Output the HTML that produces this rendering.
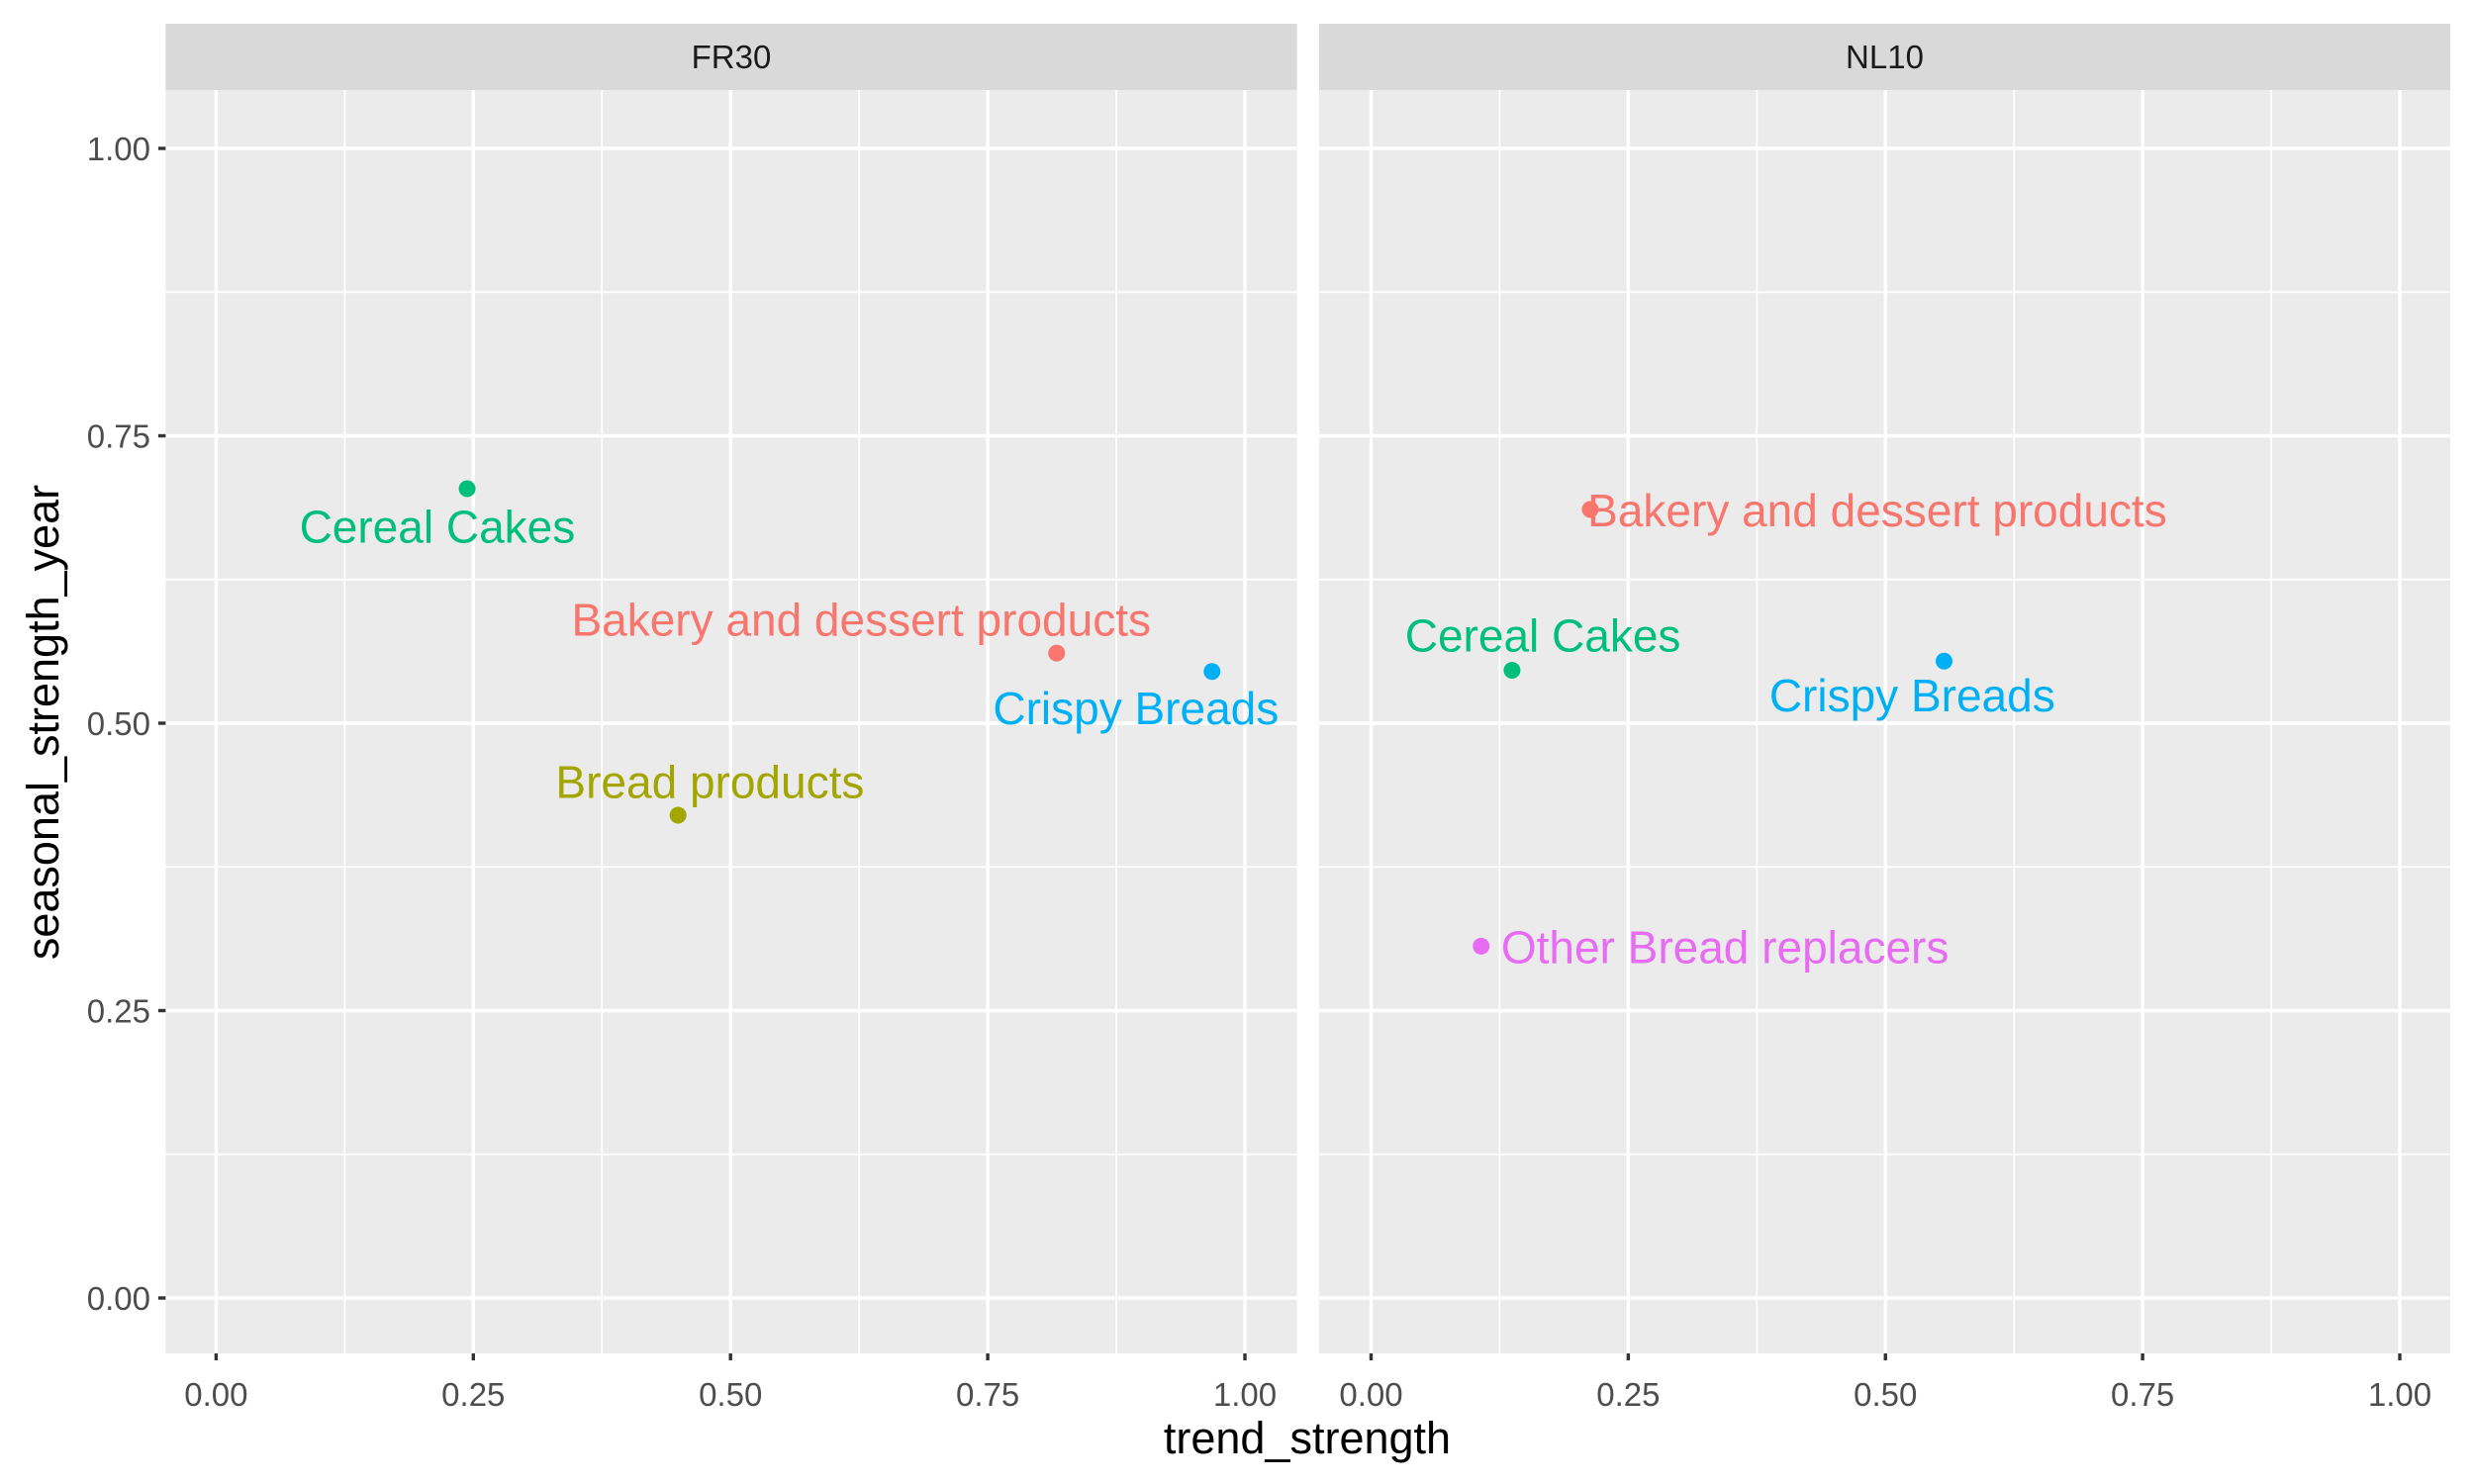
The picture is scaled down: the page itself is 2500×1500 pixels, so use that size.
<!DOCTYPE html>
<html><head><meta charset="utf-8"><style>
html,body{margin:0;padding:0;background:#fff;}
svg{display:block;font-family:"Liberation Sans",Arial,sans-serif;}
</style></head><body>
<svg id="chart" width="2500" height="1500" viewBox="0 0 2500 1500"></svg>
<script>
const panels = ["FR30", "NL10"];
const categories = ["Bakery and dessert products", "Bread products", "Cereal Cakes", "Crispy Breads", "Other Bread replacers"];
const colors = ["#F8766D", "#A3A500", "#00BF7D", "#00B0F6", "#E76BF3"];
const pointPanel = ["FR30", "FR30", "FR30", "FR30", "NL10", "NL10", "NL10", "NL10"];
const pointCategory = ["Cereal Cakes", "Bakery and dessert products", "Crispy Breads", "Bread products", "Bakery and dessert products", "Cereal Cakes", "Crispy Breads", "Other Bread replacers"];
const trendStrength = [0.244, 0.817, 0.968, 0.449, 0.213, 0.137, 0.557, 0.107];
const seasonalStrength = [0.704, 0.561, 0.545, 0.420, 0.686, 0.546, 0.554, 0.306];
const labelX = [0.215, 0.627, 0.894, 0.480, 0.492, 0.167, 0.526, 0.344];
const labelY = [0.671, 0.590, 0.513, 0.449, 0.685, 0.576, 0.524, 0.305];
const xTicks = [0, 0.25, 0.5, 0.75, 1];
const xTickLabels = ["0.00", "0.25", "0.50", "0.75", "1.00"];
const yTicks = [0, 0.25, 0.5, 0.75, 1];
const yTickLabels = ["0.00", "0.25", "0.50", "0.75", "1.00"];

const NS = "http://www.w3.org/2000/svg";
const svg = document.getElementById("chart");
function mk(tag, attrs, parent) {
  const e = document.createElementNS(NS, tag);
  for (const k in attrs) e.setAttribute(k, attrs[k]);
  (parent || svg).appendChild(e);
  return e;
}
const panelBox = [{l:167.4, r:1310.6}, {l:1333, r:2476}];
const pTop = 91, pBot = 1368, sTop = 24;
const xPix = [{a:218.4, b:1258}, {a:1385.5, b:2425}];
function xs(p, v) { return xPix[p].a + v * (xPix[p].b - xPix[p].a); }
function ys(v) { return 1312 - v * (1312 - 150); }

panels.forEach((name, p) => {
  const g = mk("g", {});
  
  
  const bg = mk("rect", {x: panelBox[p].l, y: pTop, width: panelBox[p].r - panelBox[p].l, height: pBot - pTop, fill: "#EBEBEB"}, g);
  
  
  const strip = mk("rect", {x: panelBox[p].l, y: sTop, width: panelBox[p].r - panelBox[p].l, height: pTop - sTop, fill: "#D9D9D9"}, g);
  
  
  const st = mk("text", {x: (panelBox[p].l + panelBox[p].r) / 2, y: 69, "text-anchor": "middle", "font-size": 33, fill: "#1A1A1A"}, g);
  st.textContent = name;
  
  
  for (let i = 0; i < xTicks.length - 1; i++) {
    const mx = (xTicks[i] + xTicks[i + 1]) / 2;
    const l = mk("line", {x1: xs(p, mx), x2: xs(p, mx), y1: pTop, y2: pBot, stroke: "#fff", "stroke-width": 1.7}, g);
    
    
    const my = (yTicks[i] + yTicks[i + 1]) / 2;
    const l2 = mk("line", {x1: panelBox[p].l, x2: panelBox[p].r, y1: ys(my), y2: ys(my), stroke: "#fff", "stroke-width": 1.7}, g);
    
    
  }
  xTicks.forEach((t, i) => {
    const l = mk("line", {x1: xs(p, t), x2: xs(p, t), y1: pTop, y2: pBot, stroke: "#fff", "stroke-width": 3.4}, g);
    
    
    const tk = mk("line", {x1: xs(p, t), x2: xs(p, t), y1: pBot, y2: pBot + 7, stroke: "#333", "stroke-width": 3.4}, g);
    
    
    const tl = mk("text", {x: xs(p, t), y: 1421, "text-anchor": "middle", "font-size": 33, fill: "#4D4D4D"}, g);
    tl.textContent = xTickLabels[i];
    
    
  });
  yTicks.forEach((t) => {
    const l = mk("line", {x1: panelBox[p].l, x2: panelBox[p].r, y1: ys(t), y2: ys(t), stroke: "#fff", "stroke-width": 3.4}, g);
    
    
  });
  pointPanel.forEach((pp, i) => {
    if (pp !== name) return;
    const col = colors[categories.indexOf(pointCategory[i])];
    const c = mk("circle", {cx: xs(p, trendStrength[i]), cy: ys(seasonalStrength[i]), r: 8.5, fill: col}, g);
    
    
    const t = mk("text", {x: xs(p, labelX[i]), y: ys(labelY[i]) + 16, "text-anchor": "middle", "font-size": 46, fill: col}, g);
    t.textContent = pointCategory[i];
    
    
  });
});
yTicks.forEach((t, i) => {
  const tk = mk("line", {x1: 160, x2: 167.4, y1: ys(t), y2: ys(t), stroke: "#333", "stroke-width": 3.4});
  
  
  const tl = mk("text", {x: 152, y: ys(t) + 12, "text-anchor": "end", "font-size": 33, fill: "#4D4D4D"});
  tl.textContent = yTickLabels[i];
  
  
});
const xt = mk("text", {x: 1321, y: 1469, "text-anchor": "middle", "font-size": 45, fill: "#000"});
xt.textContent = "trend_strength";


const yt = mk("text", {x: 0, y: 0, "text-anchor": "middle", "font-size": 45, fill: "#000", transform: "translate(59,730) rotate(-90)"});
yt.textContent = "seasonal_strength_year";


</script>
</body></html>
